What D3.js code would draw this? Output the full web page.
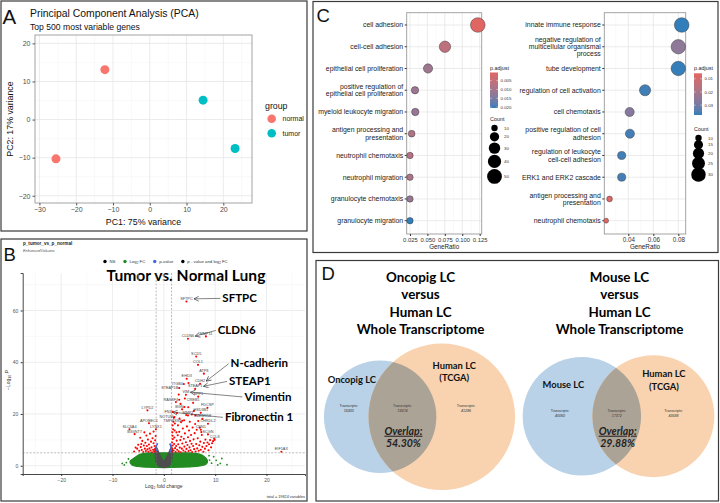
<!DOCTYPE html>
<html lang="en">
<head>
<meta charset="UTF-8">
<title>Lung cancer transcriptome figure</title>
<script src="https://cdnjs.cloudflare.com/ajax/libs/d3/7.8.5/d3.min.js"></script>
<style>
  body { margin: 0; background: #fff; }
  svg { display: block; font-family: "Liberation Sans", Arial, sans-serif; }
  .cal { font-family: Lato, "Open Sans", sans-serif; font-weight: bold; }
</style>
</head>
<body>
<svg id="fig" width="720" height="503"></svg>
<script>
// ---------- A: PCA ----------
var pcaGroup = ["normal", "normal", "tumor", "tumor"];
var pc1 = [-12.2, -25.5, 14.5, 23.2];
var pc2 = [13.1, -10.3, 5.1, -7.6];
var groupNames = ["normal", "tumor"];
var pcaXTicks = [-30, -20, -10, 0, 10, 20];
var pcaYTicks = [-20, -10, 0, 10, 20];

// ---------- B: volcano ([log2FC, -log10P]) ----------
var volXTicks = [-20, -10, 0, 10, 20];
var volYTicks = [0, 20, 40, 60];
var fcCutoff = 1.5, pCutoff = 5;
var volTotal = 19824;
// outline of the dense grey (NS) cloud
var nsCloud = [[-1.75,6.6],[-1.5,7.5],[-1.2,6.3],[-0.8,4.4],[-0.35,2.6],[0,2.0],[0.35,2.6],[0.8,4.4],[1.2,6.3],
  [1.45,7.5],[1.7,6.6],[1.65,3.5],[1.45,1.0],[1.0,-0.3],[0,-0.7],[-1.0,-0.3],[-1.5,1.0],[-1.7,3.5]];
// outline of the dense green (log2FC only) band
var fcCloud = [[-6.6,1.6],[-6.0,2.7],[-5.3,3.7],[-4.5,4.5],[-3.5,4.9],[-2,5.0],[2,5.0],[4.5,4.95],[6.3,4.8],[7.2,4.3],
  [7.9,3.5],[8.4,2.4],[8.5,1.4],[8.2,0.6],[7.3,0.0],[5.5,-0.4],[3,-0.6],[0,-0.7],[-3,-0.6],[-5,-0.3],[-6.2,0.3]];
var fcOnly = [[-8.1,0.9],[-7.3,1.2],[-7.7,0.3],[-6.9,2.6],[8.9,2.2],[9.7,3.5],[11.0,0.9],[11.3,2.8],[12.3,0.4],
  [9.3,1.0],[10.2,2.1],[8.8,3.9],[10.5,0.3]];
var pOnly = [[-1.45,7.7],[-1.6,6.8],[-1.35,6.0],[-1.55,5.4],[-1.3,8.4],[1.35,7.7],[1.5,6.7],[1.3,5.9],[1.45,5.3],[1.25,8.3]];
var sigBoth = [
  [-1.6,5.3],[-1.7,6.4],[-1.9,5.6],[-1.8,7.6],[-2.0,8.7],[-2.1,6.2],[-2.3,5.2],[-2.4,7.1],[-2.5,9.3],[-2.6,5.9],
  [-2.8,6.7],[-2.9,8.2],[-3.0,5.4],[-3.1,10.1],[-3.2,6.3],[-3.3,7.6],[-3.5,5.7],[-3.6,8.9],[-3.7,6.6],[-3.9,7.8],
  [-4.0,5.3],[-4.2,9.6],[-4.3,6.1],[-4.5,7.2],[-4.6,10.8],[-4.8,5.8],[-5.0,8.1],[-5.2,6.6],[-5.5,7.0],[-3.4,11.7],
  [-2.2,10.6],[-1.7,9.8],[-2.7,12.4],[-3.8,12.9],[-4.4,8.4],[-1.6,11.5],[-2.0,13.2],[-5.8,5.5],
  [1.6,5.4],[1.65,6.5],[1.7,7.8],[1.6,9.0],[1.75,10.3],[1.7,11.6],[1.65,12.9],[1.8,14.1],[1.7,15.6],[1.85,17.0],
  [1.9,5.9],[2.0,8.4],[2.05,10.9],[2.1,13.6],[2.2,6.8],[2.15,16.3],[1.95,18.5],
  [2.3,5.3],[2.4,7.6],[2.5,9.7],[2.6,6.2],[2.7,11.8],[2.8,8.3],[2.9,5.6],[3.0,13.1],[3.1,7.0],[3.2,9.9],
  [3.3,5.2],[3.4,11.2],[3.5,6.6],[3.6,8.6],[3.7,14.4],[3.8,5.9],[3.9,10.4],[4.0,7.4],[4.1,12.5],[4.2,5.4],
  [4.3,9.1],[4.4,6.5],[4.5,15.2],[4.6,8.0],[4.7,11.0],[4.8,5.7],[4.9,13.6],[5.0,7.1],[5.1,9.6],[5.2,6.0],
  [5.3,11.9],[5.4,8.5],[5.5,5.3],[5.6,14.8],[5.7,7.6],[5.8,10.2],[5.9,6.4],[6.0,12.6],[2.45,12.9],[2.75,15.6],
  [3.35,16.8],[3.05,18.2],[3.95,17.6],[4.35,19.6],[2.55,20.4],[3.55,21.8],[5.05,17.0],[4.75,22.6],[3.25,23.9],[5.45,19.8],
  [2.35,24.6],[6.1,16.1],[5.85,21.2],[4.1,26.0],[2.9,27.5],[4.8,32.0],
  [6.2,5.5],[6.3,8.4],[6.5,6.7],[6.6,10.6],[6.8,5.8],[6.9,7.9],[7.1,9.3],[7.2,6.2],[7.4,11.9],[7.5,7.3],
  [7.7,5.4],[7.8,8.8],[8.0,6.6],[8.1,10.1],[8.3,7.6],[8.5,9.0],[8.7,6.0],[8.8,8.3],[9.0,9.9],[9.2,7.1],
  [9.4,8.7],[9.6,9.5],[9.8,10.4],[6.4,13.9],[7.0,14.7],[6.7,17.3],[7.3,13.0],[6.15,19.4]];
var labGene = ["SFTPC","CLDN6","MMP11","SCD5","COL1","ATP8","EHD3","CDH2","ITGB4","STEAP1B","STEAP1","VIM","SPP1",
  "RASSF4","CREB5","FDCSP","BGN","HSD3B1","FN1","MMP7","NOTUM","TMPRSS4","TMEM158","CHRDL2","CNN1","SCGN","CCL8",
  "LYPD2","APOBEC1","LYNX1","SLC6A4","B3GNT7","EIF1AX"];
var labFC = [4.4,4.7,8.2,6.3,6.65,7.8,4.45,7.05,3.9,3.0,6.1,4.3,6.7,3.0,5.7,8.5,4.0,7.2,1.7,4.7,2.05,3.6,7.5,8.6,7.2,8.6,9.9,
  -3.2,-2.9,-1.55,-6.7,-5.7,22.9];
var labP = [63.5,49.1,50.0,42.2,39.0,35.6,33.6,31.7,31.6,30.0,29.7,27.4,26.7,25.5,24.3,22.4,22.7,20.5,20.8,19.4,18.8,17.4,
  18.1,16.2,13.9,12.1,10.0,21.4,16.4,14.1,14.1,12.2,5.4];
var calloutText = ["SFTPC","CLDN6","N-cadherin","STEAP1","Vimentin","Fibronectin 1"];
var calloutGene = ["SFTPC","CLDN6","CDH2","STEAP1","VIM","FN1"];
var calloutFC = [11.4,10.5,13.0,12.7,15.7,11.9];
var calloutP = [63.3,50.9,38.0,31.2,25.2,17.3];

// ---------- C: GO dot plots ----------
var goLeftTerms = ["cell adhesion","cell-cell adhesion","epithelial cell proliferation",
  "positive regulation of epithelial cell proliferation","myeloid leukocyte migration",
  "antigen processing and presentation","neutrophil chemotaxis","neutrophil migration",
  "granulocyte chemotaxis","granulocyte migration"];
var goLeftRatio = [0.1223,0.0752,0.0509,0.0322,0.0326,0.0274,0.025,0.025,0.025,0.025];
var goLeftCount = [49,30,20,13,13,11,10,10,10,10];
var goLeftPadj = [0.0004,0.0062,0.0108,0.0112,0.0116,0.0085,0.0075,0.0088,0.0118,0.0205];
var goLeftXTicks = [0.025,0.05,0.075,0.1,0.125];
var goLeftCountBreaks = [10,20,30,40,50];
var goLeftPadjBreaks = [0.005,0.010,0.015,0.020];

var goRightTerms = ["innate immune response","negative regulation of multicellular organismal process",
  "tube development","regulation of cell activation","cell chemotaxis","positive regulation of cell adhesion",
  "regulation of leukocyte cell-cell adhesion","ERK1 and ERK2 cascade","antigen processing and presentation",
  "neutrophil chemotaxis"];
var goRightRatio = [0.0827,0.0800,0.0800,0.0534,0.0411,0.0413,0.0347,0.0347,0.0250,0.0223];
var goRightCount = [31,30,30,20,15,15,13,13,9,8];
var goRightPadj = [0.0375,0.0255,0.0372,0.0365,0.0270,0.0360,0.0362,0.0358,0.0062,0.0058];
var goRightXTicks = [0.04,0.06,0.08];
var goRightCountBreaks = [10,15,20,25,30];
var goRightPadjBreaks = [0.01,0.02,0.03];

// ---------- D: Venn ----------
var vennTitles = [["Oncopig LC","versus","Human LC","Whole Transcriptome"],
                  ["Mouse LC","versus","Human LC","Whole Transcriptome"]];
var vennSetA = ["Oncopig LC","Mouse LC"];
var vennSetB = ["Human LC","(TCGA)"];
var vennOnlyA = [16300, 40060];
var vennBoth = [19374, 17072];
var vennOnlyB = [41286, 43588];

var svg = d3.select("#fig");
svg.append("rect").attr("width", 720).attr("height", 503).attr("fill", "#fff");
var defs = svg.append("defs");

// frames and panel letters
[[1, 1, 306, 230], [1, 239, 306, 262], [313, 1.5, 405, 251], [316, 260.5, 402.5, 240.5]].forEach(function (f) {
  svg.append("rect").attr("x", f[0]).attr("y", f[1]).attr("width", f[2]).attr("height", f[3])
    .attr("fill", "none").attr("stroke", "#3a3a3a").attr("stroke-width", 1.2);
});
[["A", 2.5, 24, 20.5], ["B", 3.5, 261.3, 18.5], ["C", 316.5, 21.7, 18.5], ["D", 321.5, 279.7, 18.5]].forEach(function (l) {
  svg.append("text").attr("x", l[1]).attr("y", l[2]).attr("font-size", l[3]).attr("fill", "#111").text(l[0]);
});

function midpoints(ticks, dom) {
  var step = ticks[1] - ticks[0];
  var out = [ticks[0] - step / 2];
  ticks.forEach(function (t) { out.push(t + step / 2); });
  return out.filter(function (v) { return v > dom[0] && v < dom[1]; });
}

// ================= A =================
(function () {
  var g = svg.append("g");
  var L = 35, R = 252, T = 35, Bt = 203;
  var x = d3.scaleLinear().domain([-31.2, 27.8]).range([L, R]);
  var y = d3.scaleLinear().domain([-21.9, 22.2]).range([Bt, T]);
  var col = d3.scaleOrdinal().domain(groupNames).range(["#F8766D", "#00BFC4"]);

  g.append("text").attr("x", 30).attr("y", 16.5).attr("font-size", 10.4).attr("fill", "#111")
    .text("Principal Component Analysis (PCA)");
  g.append("text").attr("x", 30).attr("y", 29.5).attr("font-size", 8.6).attr("fill", "#111")
    .text("Top 500 most variable genes");

  g.selectAll(".vmin").data(midpoints(pcaXTicks, x.domain())).enter().append("line")
    .attr("x1", x).attr("x2", x).attr("y1", T).attr("y2", Bt).attr("stroke", "#f2f2f2").attr("stroke-width", 0.5);
  g.selectAll(".hmin").data(midpoints(pcaYTicks, y.domain())).enter().append("line")
    .attr("y1", y).attr("y2", y).attr("x1", L).attr("x2", R).attr("stroke", "#f2f2f2").attr("stroke-width", 0.5);
  g.selectAll(".vmaj").data(pcaXTicks).enter().append("line")
    .attr("x1", x).attr("x2", x).attr("y1", T).attr("y2", Bt).attr("stroke", "#e6e6e6").attr("stroke-width", 0.8);
  g.selectAll(".hmaj").data(pcaYTicks).enter().append("line")
    .attr("y1", y).attr("y2", y).attr("x1", L).attr("x2", R).attr("stroke", "#e6e6e6").attr("stroke-width", 0.8);
  g.append("rect").attr("x", L).attr("y", T).attr("width", R - L).attr("height", Bt - T)
    .attr("fill", "none").attr("stroke", "#9a9a9a").attr("stroke-width", 0.9);

  var xa = g.append("g").attr("transform", "translate(0," + Bt + ")")
    .call(d3.axisBottom(x).tickValues(pcaXTicks).tickSize(2.5).tickPadding(2));
  var ya = g.append("g").attr("transform", "translate(" + L + ",0)")
    .call(d3.axisLeft(y).tickValues(pcaYTicks).tickSize(2.5).tickPadding(2));
  [xa, ya].forEach(function (a) {
    a.select(".domain").remove();
    a.selectAll("line").attr("stroke", "#555");
    a.selectAll("text").attr("font-size", 7).attr("fill", "#4d4d4d").attr("font-family", "Liberation Sans");
  });

  g.append("text").attr("x", (L + R) / 2).attr("y", 225).attr("text-anchor", "middle")
    .attr("font-size", 8.8).attr("fill", "#111").text("PC1: 75% variance");
  g.append("text").attr("transform", "translate(13," + ((T + Bt) / 2) + ") rotate(-90)")
    .attr("text-anchor", "middle").attr("font-size", 8.8).attr("fill", "#111").text("PC2: 17% variance");

  g.selectAll(".pt").data(pc1).enter().append("circle")
    .attr("cx", function (d) { return x(d); })
    .attr("cy", function (d, i) { return y(pc2[i]); })
    .attr("r", 4.5).attr("fill", function (d, i) { return col(pcaGroup[i]); });

  g.append("text").attr("x", 265).attr("y", 108.5).attr("font-size", 8.8).attr("fill", "#111").text("group");
  groupNames.forEach(function (n, i) {
    g.append("circle").attr("cx", 271.7).attr("cy", 118.7 + i * 14.6).attr("r", 4.3).attr("fill", col(n));
    g.append("text").attr("x", 282.5).attr("y", 121.2 + i * 14.6).attr("font-size", 7).attr("fill", "#222").text(n);
  });
})();

// ================= B =================
function subText(sel, parts) {
  parts.forEach(function (p) {
    var t = sel.append("tspan").text(p[0]);
    if (p[1] === "sub") t.attr("font-size", "70%").attr("dy", "0.3em");
    if (p[1] === "back") t.attr("dy", "-0.3em");
    if (p[1] === "it") t.attr("font-style", "italic");
  });
}

(function () {
  var g = svg.append("g");
  var L = 22.7, R = 305, T = 273, Bt = 474;
  var x = d3.scaleLinear().domain([-27.5, 27.5]).range([L, R]);
  var y = d3.scaleLinear().domain([-3.2, 74.5]).range([Bt, T]);

  g.append("text").attr("x", 23).attr("y", 244.5).attr("font-size", 4.6).attr("font-weight", "bold")
    .attr("fill", "#222").text("p_tumor_vs_p_normal");
  g.append("text").attr("x", 23).attr("y", 251.5).attr("font-size", 3.9).attr("font-style", "italic")
    .attr("fill", "#555").text("EnhancedVolcano");

  // legend row
  var legCols = ["grey30", "forestgreen", "royalblue", "red2"];
  var legParts = [[["NS"]], [["Log"], ["2", "sub"], [" FC", "back"]], [["p-value"]],
    [["p - value and log"], ["2", "sub"], [" FC", "back"]]];
  var lx = 105;
  legCols.forEach(function (c, i) {
    g.append("circle").attr("cx", lx).attr("cy", 261.5).attr("r", 1.7).attr("fill", c);
    var t = g.append("text").attr("x", lx + 4.5).attr("y", 263).attr("font-size", 4.3).attr("fill", "#333");
    subText(t, legParts[i]);
    lx += 4.5 + t.node().getComputedTextLength() + 9.5;
  });

  g.append("text").attr("class", "cal").attr("x", 186).attr("y", 281.3).attr("text-anchor", "middle")
    .attr("font-size", 15.6).attr("fill", "#000").text("Tumor vs. Normal Lung");

  // grid
  g.selectAll(".vmin").data(midpoints(volXTicks, x.domain())).enter().append("line")
    .attr("x1", x).attr("x2", x).attr("y1", T).attr("y2", Bt).attr("stroke", "#f3f3f3").attr("stroke-width", 0.5);
  g.selectAll(".hmin").data(midpoints(volYTicks, y.domain())).enter().append("line")
    .attr("y1", y).attr("y2", y).attr("x1", L).attr("x2", R).attr("stroke", "#f3f3f3").attr("stroke-width", 0.5);
  g.selectAll(".vmaj").data(volXTicks).enter().append("line")
    .attr("x1", x).attr("x2", x).attr("y1", T).attr("y2", Bt).attr("stroke", "#e8e8e8").attr("stroke-width", 0.8);
  g.selectAll(".hmaj").data(volYTicks).enter().append("line")
    .attr("y1", y).attr("y2", y).attr("x1", L).attr("x2", R).attr("stroke", "#e8e8e8").attr("stroke-width", 0.8);

  var xa = g.append("g").attr("transform", "translate(0," + Bt + ")")
    .call(d3.axisBottom(x).tickValues(volXTicks).tickSize(2).tickPadding(2.5));
  var ya = g.append("g").attr("transform", "translate(" + L + ",0)")
    .call(d3.axisLeft(y).tickValues(volYTicks).tickSize(2).tickPadding(2.5));
  [xa, ya].forEach(function (a) {
    a.select(".domain").attr("stroke", "#333").attr("stroke-width", 0.9);
    a.selectAll("line").attr("stroke", "#333");
    a.selectAll("text").attr("font-size", 5).attr("fill", "#555").attr("font-family", "Liberation Sans");
  });

  var xl = g.append("text").attr("x", (L + R) / 2).attr("y", 488).attr("text-anchor", "middle")
    .attr("font-size", 5).attr("fill", "#333");
  subText(xl, [["Log"], ["2", "sub"], [" fold change", "back"]]);
  var yl = g.append("text").attr("transform", "translate(9.5,380) rotate(-90)").attr("text-anchor", "middle")
    .attr("font-size", 5).attr("fill", "#333");
  subText(yl, [["\u2212Log"], ["10", "sub"], [" ", "back"], ["P", "it"]]);
  g.append("text").attr("x", 305).attr("y", 497.5).attr("text-anchor", "end").attr("font-size", 3.8)
    .attr("fill", "#333").text("total = " + volTotal + " variables");

  var smooth = d3.line().x(function (d) { return x(d[0]); }).y(function (d) { return y(d[1]); })
    .curve(d3.curveCatmullRomClosed);
  var sharp = d3.line().x(function (d) { return x(d[0]); }).y(function (d) { return y(d[1]); })
    .curve(d3.curveLinearClosed);
  g.append("path").attr("d", smooth(fcCloud)).attr("fill", "forestgreen").attr("stroke", "forestgreen")
    .attr("stroke-width", 1.2);
  function pts(data, c, r) {
    g.append("g").selectAll("circle").data(data).enter().append("circle")
      .attr("cx", function (d) { return x(d[0]); }).attr("cy", function (d) { return y(d[1]); })
      .attr("r", r).attr("fill", c);
  }
  pts(fcOnly, "forestgreen", 0.9);
  g.append("path").attr("d", sharp(nsCloud)).attr("fill", "#4d4d4d").attr("stroke", "#4d4d4d")
    .attr("stroke-width", 1).attr("stroke-linejoin", "round");
  pts(pOnly, "royalblue", 1.1);
  pts(sigBoth, "red", 1.05);
  pts(labFC.map(function (d, i) { return [d, labP[i]]; }), "red", 1.05);

  // cutoff lines
  [-fcCutoff, fcCutoff].forEach(function (v) {
    g.append("line").attr("x1", x(v)).attr("x2", x(v)).attr("y1", T).attr("y2", Bt)
      .attr("stroke", "#777").attr("stroke-width", 0.5).attr("stroke-dasharray", "2,1.5");
  });
  g.append("line").attr("x1", L).attr("x2", R).attr("y1", y(pCutoff)).attr("y2", y(pCutoff))
    .attr("stroke", "#777").attr("stroke-width", 0.5).attr("stroke-dasharray", "2,1.5");

  // gene labels
  var labNodes = {};
  labGene.forEach(function (gname, i) {
    var px = x(labFC[i]), py = y(labP[i]);
    var endAnchor = labFC[i] > 0 && labFC[i] < 4.2;
    var t = g.append("text").attr("x", endAnchor ? px - 1 : px).attr("y", endAnchor ? py + 1.3 : py - 1.6)
      .attr("text-anchor", endAnchor ? "end" : "middle").attr("font-size", 3.8).attr("fill", "#444").text(gname);
    labNodes[gname] = t.node();
  });

  defs.append("marker").attr("id", "openArrow").attr("viewBox", "-10 -5 10 10").attr("refX", 0).attr("refY", 0)
    .attr("markerUnits", "userSpaceOnUse").attr("markerWidth", 6).attr("markerHeight", 6).attr("orient", "auto")
    .append("path").attr("d", "M-8,-4L0,0L-8,4").attr("fill", "none").attr("stroke", "#333").attr("stroke-width", 1.1);

  calloutText.forEach(function (txt, i) {
    var tx = x(calloutFC[i]), ty = y(calloutP[i]);
    g.append("text").attr("class", "cal").attr("x", tx).attr("y", ty).attr("font-size", 11.5).attr("fill", "#000").text(txt);
    var bb = labNodes[calloutGene[i]].getBBox();
    g.append("line").attr("x1", tx - 2).attr("y1", ty - 3.6)
      .attr("x2", bb.x + bb.width + 1).attr("y2", bb.y + bb.height / 2)
      .attr("stroke", "#333").attr("stroke-width", 0.6).attr("marker-end", "url(#openArrow)");
  });
})();

// ================= C =================
function wrapLabel(s, width) {
  var lines = [], cur = "";
  s.split(" ").forEach(function (w) {
    if (cur && (cur + " " + w).length > width) { lines.push(cur); cur = w; }
    else cur = cur ? cur + " " + w : w;
  });
  lines.push(cur);
  return lines;
}

function drawDotplot(o) {
  var g = svg.append("g");
  var T = 12.7, Bt = 234;
  var x = d3.scaleLinear().domain(o.xDomain).range([o.left, o.right]);
  var y = d3.scalePoint().domain(o.terms).range([25, 220.7]);
  var ext = d3.extent(o.padj);
  var col = d3.scaleLinear().domain(ext).range(["#e06663", "#327eba"]).interpolate(d3.interpolateLab);
  var r = d3.scaleRadial().domain(o.sizeDomain).range([3.2, o.rMax]);

  g.selectAll(".vmin").data(midpoints(o.xTicks, o.xDomain)).enter().append("line")
    .attr("x1", x).attr("x2", x).attr("y1", T).attr("y2", Bt).attr("stroke", "#f3f3f3").attr("stroke-width", 0.5);
  g.selectAll(".vmaj").data(o.xTicks).enter().append("line")
    .attr("x1", x).attr("x2", x).attr("y1", T).attr("y2", Bt).attr("stroke", "#e6e6e6").attr("stroke-width", 0.8);
  g.selectAll(".hmaj").data(o.terms).enter().append("line")
    .attr("y1", y).attr("y2", y).attr("x1", o.left).attr("x2", o.right).attr("stroke", "#e6e6e6").attr("stroke-width", 0.8);
  g.append("rect").attr("x", o.left).attr("y", T).attr("width", o.right - o.left).attr("height", Bt - T)
    .attr("fill", "none").attr("stroke", "#9a9a9a").attr("stroke-width", 0.9);

  var xa = g.append("g").attr("transform", "translate(0," + Bt + ")")
    .call(d3.axisBottom(x).tickValues(o.xTicks).tickFormat(o.fmt).tickSize(2).tickPadding(1.5));
  xa.select(".domain").remove();
  xa.selectAll("line").attr("stroke", "#333");
  xa.selectAll("text").attr("font-size", o.tickFont).attr("fill", "#333").attr("font-family", "Liberation Sans");
  g.append("text").attr("x", (o.left + o.right) / 2).attr("y", 249).attr("text-anchor", "middle")
    .attr("font-size", 6.3).attr("fill", "#222").text("GeneRatio");

  o.terms.forEach(function (term) {
    var yy = y(term);
    g.append("line").attr("x1", o.left - 2).attr("x2", o.left).attr("y1", yy).attr("y2", yy).attr("stroke", "#333");
    var lines = wrapLabel(term, 30);
    var t = g.append("text").attr("text-anchor", "end").attr("font-size", 6.9).attr("fill", "#222");
    lines.forEach(function (ln, k) {
      t.append("tspan").attr("x", o.left - 3.5).attr("y", yy + 2.4 + (k - (lines.length - 1) / 2) * 7.3).text(ln);
    });
  });

  g.selectAll(".dot").data(o.terms).enter().append("circle")
    .attr("cx", function (d, i) { return x(o.ratio[i]); })
    .attr("cy", function (d) { return y(d); })
    .attr("r", function (d, i) { return r(o.count[i]); })
    .attr("fill", function (d, i) { return col(o.padj[i]); })
    .attr("stroke", "#333").attr("stroke-width", 0.45);

  // p.adjust colour bar
  var lx = o.legendX;
  g.append("text").attr("x", lx).attr("y", 70).attr("font-size", 5.4).attr("fill", "#222").text("p.adjust");
  var gid = "grad" + o.id;
  var grad = defs.append("linearGradient").attr("id", gid).attr("x1", 0).attr("x2", 0).attr("y1", 0).attr("y2", 1);
  d3.range(0, 1.001, 0.1).forEach(function (t) {
    grad.append("stop").attr("offset", t).attr("stop-color", col(ext[0] + t * (ext[1] - ext[0])));
  });
  var bar = d3.scaleLinear().domain(ext).range(o.bar);
  g.append("rect").attr("x", lx).attr("y", o.bar[0]).attr("width", 8).attr("height", o.bar[1] - o.bar[0])
    .attr("fill", "url(#" + gid + ")");
  o.padjBreaks.forEach(function (b) {
    g.append("line").attr("x1", lx).attr("x2", lx + 1.6).attr("y1", bar(b)).attr("y2", bar(b)).attr("stroke", "#fff").attr("stroke-width", 0.5);
    g.append("line").attr("x1", lx + 6.4).attr("x2", lx + 8).attr("y1", bar(b)).attr("y2", bar(b)).attr("stroke", "#fff").attr("stroke-width", 0.5);
    g.append("text").attr("x", lx + 10.5).attr("y", bar(b) + 1.6).attr("font-size", 4.4).attr("fill", "#333")
      .text(o.padjFmt(b));
  });

  // Count legend
  g.append("text").attr("x", lx).attr("y", o.countTitleY).attr("font-size", 5.4).attr("fill", "#222").text("Count");
  var cy = o.countTitleY + 7, prev = null;
  o.countBreaks.forEach(function (c) {
    var rr = r(c);
    if (prev !== null) cy += o.keyGap * (prev + rr) + 1;
    g.append("circle").attr("cx", lx + 4.5).attr("cy", cy).attr("r", rr).attr("fill", "#000");
    g.append("text").attr("x", lx + 14).attr("y", cy + 1.6).attr("font-size", 4.4).attr("fill", "#333").text(c);
    prev = rr;
  });
}

drawDotplot({ id: "L", terms: goLeftTerms, ratio: goLeftRatio, count: goLeftCount, padj: goLeftPadj,
  left: 406.7, right: 481.7, xDomain: [0.0203, 0.1279], xTicks: goLeftXTicks, fmt: d3.format(".3f"), tickFont: 5.9,
  sizeDomain: [10, 50], rMax: 7.4, legendX: 490, bar: [72.5, 108], padjBreaks: goLeftPadjBreaks, padjFmt: d3.format(".3f"),
  countTitleY: 121, countBreaks: goLeftCountBreaks, keyGap: 1 });
drawDotplot({ id: "R", terms: goRightTerms, ratio: goRightRatio, count: goRightCount, padj: goRightPadj,
  left: 604.3, right: 685.7, xDomain: [0.0208, 0.0859], xTicks: goRightXTicks, fmt: d3.format(".2f"), tickFont: 6.3,
  sizeDomain: [10, 30], rMax: 7.2, legendX: 694, bar: [73.3, 115], padjBreaks: goRightPadjBreaks, padjFmt: d3.format(".2f"),
  countTitleY: 131, countBreaks: goRightCountBreaks, keyGap: 0.75 });

// ================= D =================
function lensArea(r1, r2, d) {
  if (d >= r1 + r2) return 0;
  if (d <= Math.abs(r1 - r2)) return Math.PI * Math.min(r1, r2) * Math.min(r1, r2);
  var a1 = Math.acos((d * d + r1 * r1 - r2 * r2) / (2 * d * r1));
  var a2 = Math.acos((d * d + r2 * r2 - r1 * r1) / (2 * d * r2));
  return r1 * r1 * a1 + r2 * r2 * a2 -
    0.5 * Math.sqrt((-d + r1 + r2) * (d + r1 - r2) * (d - r1 + r2) * (d + r1 + r2));
}

var vennLayout = [
  { mid: 419.5, cy: 416.8, rB: 73.3, aDx: -28.3, aDy: -34.3, bDx: 12.5, bDy: -48, trDy: -10.3, ovDy: 17.9 },
  { mid: 618.5, cy: 416.2, rB: 61, aDx: -18.5, aDy: -28.7, bDx: 10.5, bDy: -39.2, trDy: -4.6, ovDy: 18.5 }
];

vennLayout.forEach(function (lay, i) {
  var g = svg.append("g");
  var totA = vennOnlyA[i] + vennBoth[i], totB = vennOnlyB[i] + vennBoth[i];
  var rad = d3.scaleSqrt().domain([0, totB]).range([0, lay.rB]);
  var rA = rad(totA), rB = rad(totB);
  var target = Math.PI * rad(vennBoth[i]) * rad(vennBoth[i]);
  var lo = Math.abs(rA - rB), hi = rA + rB;
  for (var k = 0; k < 60; k++) {
    var m = (lo + hi) / 2;
    if (lensArea(rA, rB, m) > target) lo = m; else hi = m;
  }
  var d = (lo + hi) / 2;
  var xA = lay.mid - (rA + d + rB) / 2 + rA, xB = xA + d, cy = lay.cy;

  vennTitles[i].forEach(function (ln, k) {
    g.append("text").attr("class", "cal").attr("x", lay.mid + 1).attr("y", 281.5 + k * 17.6)
      .attr("text-anchor", "middle").attr("font-size", 13.4).attr("fill", "#000").text(ln);
  });

  var cid = "clipA" + i;
  defs.append("clipPath").attr("id", cid).append("circle").attr("cx", xA).attr("cy", cy).attr("r", rA);
  g.append("circle").attr("cx", xA).attr("cy", cy).attr("r", rA).attr("fill", "#b9d2e8");
  g.append("circle").attr("cx", xB).attr("cy", cy).attr("r", rB).attr("fill", "#f9d3b0");
  g.append("circle").attr("cx", xB).attr("cy", cy).attr("r", rB).attr("fill", "#aca397")
    .attr("clip-path", "url(#" + cid + ")");

  g.append("text").attr("class", "cal").attr("x", xA + lay.aDx).attr("y", cy + lay.aDy)
    .attr("text-anchor", "middle").attr("font-size", 9.4).attr("fill", "#111").text(vennSetA[i]);
  vennSetB.forEach(function (ln, k) {
    g.append("text").attr("class", "cal").attr("x", xB + lay.bDx).attr("y", cy + lay.bDy + k * 12.5)
      .attr("text-anchor", "middle").attr("font-size", 9.4).attr("fill", "#111").text(ln);
  });

  var lensMid = ((xB - rB) + (xA + rA)) / 2;
  var trX = [(xA - rA + xB - rB) / 2 + 2.5, lensMid, xB + 0.33 * rB];
  var trN = [vennOnlyA[i], vennBoth[i], vennOnlyB[i]];
  trX.forEach(function (tx, k) {
    g.append("text").attr("x", tx).attr("y", cy + lay.trDy).attr("text-anchor", "middle")
      .attr("font-size", 3.6).attr("fill", "#333").text("Transcripts:");
    g.append("text").attr("x", tx).attr("y", cy + lay.trDy + 5.8).attr("text-anchor", "middle")
      .attr("font-size", 3.6).attr("font-style", "italic").attr("fill", "#333").text(trN[k]);
  });

  // the figure truncates the overlap share to two decimals
  var pct = (Math.floor(10000 * vennBoth[i] / totA) / 100).toFixed(2) + "%";
  g.append("text").attr("class", "cal").attr("x", lensMid + 1).attr("y", cy + lay.ovDy).attr("text-anchor", "middle")
    .attr("font-size", 10.5).attr("font-style", "italic").attr("text-decoration", "underline")
    .attr("fill", "#222").text("Overlap:");
  g.append("text").attr("class", "cal").attr("x", lensMid + 1).attr("y", cy + lay.ovDy + 12)
    .attr("text-anchor", "middle").attr("font-size", 10.5).attr("font-style", "italic")
    .attr("fill", "#222").text(pct);
});
</script>
</body>
</html>
